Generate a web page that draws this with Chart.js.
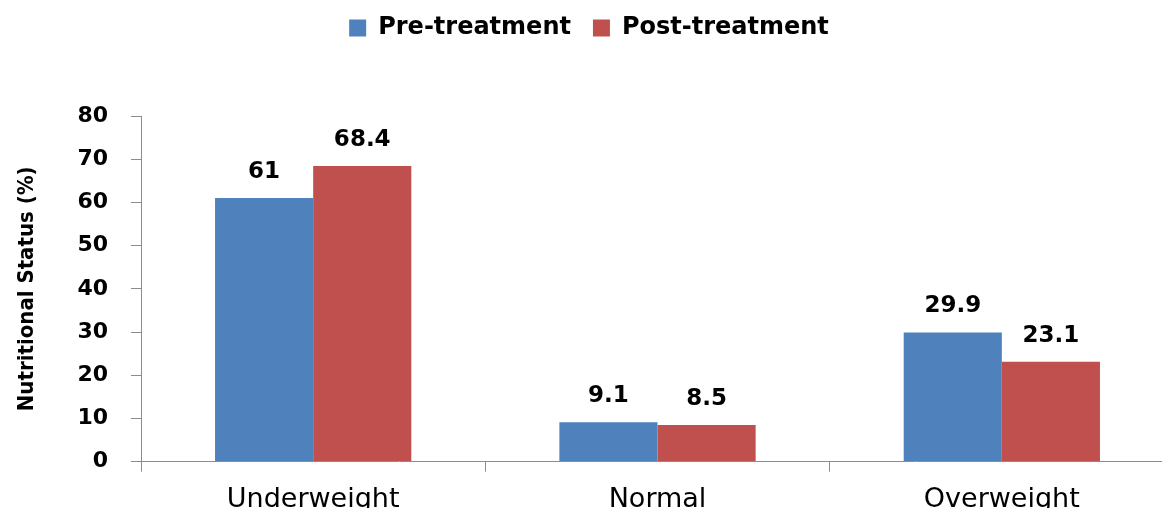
<!DOCTYPE html>
<html>
<head>
<meta charset="utf-8">
<script src="https://cdn.jsdelivr.net/npm/chart.js@4.4.1/dist/chart.umd.min.js"></script>
<style>
  html, body { margin: 0; padding: 0; background: #fff; overflow: hidden; }
  .wrap { width: 1162px; height: 508px; overflow: hidden; }
  .box { width: 1180px; height: 530px; }
</style>
</head>
<body>
<div class="wrap"><div class="box"><canvas id="chart"></canvas></div></div>
<script>
const categories = ['Underweight', 'Normal', 'Overweight'];
const preTreatment = [61, 9.1, 29.9];
const postTreatment = [68.4, 8.5, 23.1];
const yTicks = [0, 10, 20, 30, 40, 50, 60, 70, 80];

const axisColor = '#8c8c8c';

// value labels above each bar
const barLabels = {
    id: 'barLabels',
    afterDatasetsDraw(chart) {
        const ctx = chart.ctx;
        ctx.save();
        ctx.font = 'bold 23px "DejaVu Sans"';
        ctx.fillStyle = '#000';
        ctx.textAlign = 'center';
        ctx.textBaseline = 'middle';
        chart.data.datasets.forEach((ds, i) => {
            chart.getDatasetMeta(i).data.forEach((bar, j) => {
                ctx.fillText(String(ds.data[j]), bar.x, bar.y - 26);
            });
        });
        ctx.restore();
    }
};

// extra room under the legend
const legendGap = {
    id: 'legendGap',
    beforeInit(chart) {
        const fit = chart.legend.fit;
        chart.legend.fit = function () {
            fit.bind(chart.legend)();
            this.height += 66;
        };
    }
};

const ctx = document.getElementById('chart').getContext('2d');
new Chart(ctx, {
    type: 'bar',
    data: {
        labels: categories,
        datasets: [{
            label: 'Pre-treatment',
            data: preTreatment,
            backgroundColor: '#4F81BD',
            borderWidth: 0
        }, {
            label: 'Post-treatment',
            data: postTreatment,
            backgroundColor: '#C0504D',
            borderWidth: 0
        }]
    },
    options: {
        responsive: true,
        maintainAspectRatio: false,
        animation: false,
        layout: { padding: { top: -6, left: 4, right: 6, bottom: 2 } },
        datasets: {
            bar: { categoryPercentage: 0.57, barPercentage: 1.0 }
        },
        scales: {
            x: {
                grid: {
                    drawOnChartArea: false,
                    color: axisColor,
                    tickLength: 10,
                    offset: true
                },
                border: { color: axisColor, width: 1 },
                ticks: {
                    color: '#000',
                    padding: 12,
                    font: { family: '"DejaVu Sans"', size: 27 }
                }
            },
            y: {
                min: 0,
                max: 80,
                afterBuildTicks(scale) {
                    scale.ticks = yTicks.map(v => ({ value: v }));
                },
                grid: {
                    drawOnChartArea: false,
                    color: axisColor,
                    tickLength: 10
                },
                border: { color: axisColor, width: 1 },
                title: {
                    display: true,
                    text: 'Nutritional Status (%)',
                    color: '#000',
                    padding: { top: 10, bottom: 14 },
                    font: { family: '"DejaVu Sans Condensed", "DejaVu Sans"', size: 22, weight: 'bold' }
                },
                ticks: {
                    color: '#000',
                    padding: 23,
                    font: { family: '"DejaVu Sans"', size: 22, weight: 'bold' }
                }
            }
        },
        plugins: {
            legend: {
                position: 'top',
                labels: {
                    color: '#000',
                    boxWidth: 17,
                    boxHeight: 17,
                    padding: 22,
                    font: { family: '"DejaVu Sans"', size: 24, weight: 'bold' }
                }
            },
            tooltip: { enabled: false }
        }
    },
    plugins: [barLabels, legendGap]
});
</script>
</body>
</html>
